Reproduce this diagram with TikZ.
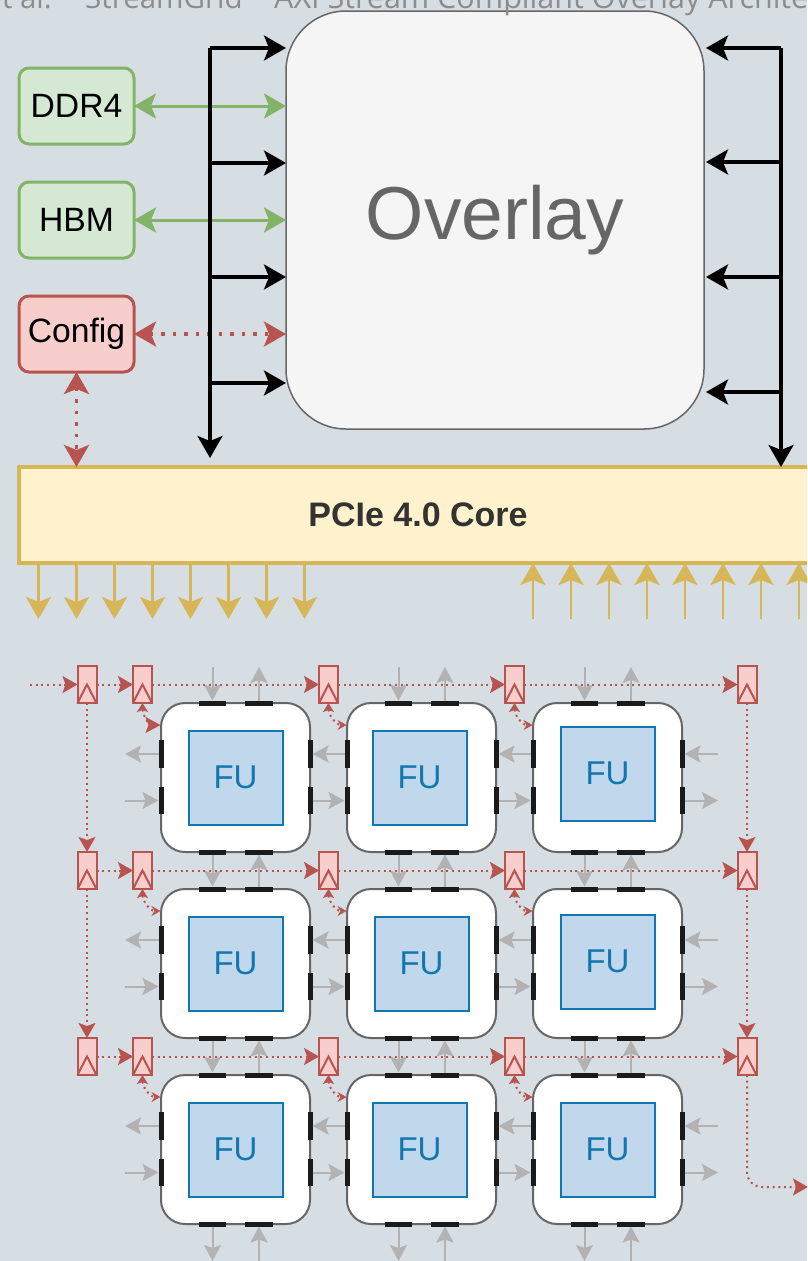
\documentclass[tikz,border=0pt]{standalone}
\usepackage{fontspec}
\setmainfont{Liberation Sans}
\newfontfamily\hdrfont{Open Sans}
\definecolor{ovlbg}{RGB}{214,222,228}
\definecolor{ovlgreen}{RGB}{130,179,102}
\definecolor{ovlgreenfill}{RGB}{213,232,212}
\definecolor{ovlred}{RGB}{184,84,80}
\definecolor{ovlredfill}{RGB}{248,206,204}
\definecolor{ovlgold}{RGB}{214,182,86}
\definecolor{ovlgoldfill}{RGB}{255,242,204}
\definecolor{ovlblue}{RGB}{18,119,175}
\definecolor{ovlbluefill}{RGB}{193,216,236}
\definecolor{ovlport}{RGB}{26,26,26}
\usetikzlibrary{arrows.meta,calc,positioning}

\begin{document}
\begin{tikzpicture}[
      x=1pt, y=-1pt,
      >={Stealth[length=22pt,width=25pt,inset=5pt]},
      bus/.style={->, line width=3.3pt, black},
      mem/.style={<->, line width=3pt, ovlgreen},
      cfg/.style={<->, line width=3.5pt, ovlred, dash pattern=on 3.5pt off 8pt},
      pin/.style={line width=2.5pt, ovlgold},
      gry/.style={->, line width=2pt, black!30, >={Stealth[length=16pt,width=17pt,inset=3pt]}},
      clk/.style={->, line width=2pt, ovlred, dash pattern=on 2pt off 3.7pt, >={Stealth[length=15pt,width=17pt,inset=3pt]}},
      side/.style={draw,line width=3pt,rounded corners=10pt,inner sep=0pt,outer sep=0pt,
                   minimum width=115pt,minimum height=76pt,font=\fontsize{33.7}{40}\selectfont},
      cell/.style={draw=black!60,line width=2pt,fill=white,rounded corners=24pt,minimum size=149pt,outer sep=0pt},
      fu/.style={draw=ovlblue,line width=2pt,fill=ovlbluefill,minimum size=94pt,outer sep=0pt,
                 text=ovlblue,font=\fontsize{33}{38}\selectfont},
      porth/.style={fill=ovlport,minimum width=27.5pt,minimum height=5pt,inner sep=0pt,outer sep=0pt},
      portv/.style={fill=ovlport,minimum width=5pt,minimum height=27.5pt,inner sep=0pt,outer sep=0pt},
      reg/.style={draw=ovlred,line width=2pt,fill=ovlredfill,minimum width=19pt,minimum height=37pt,inner sep=0pt,outer sep=0pt},
      hdr/.style={text=black!45,inner sep=0pt,font=\hdrfont\fontsize{29.5}{34}\selectfont}
    ]
    \path[use as bounding box, clip] (0,0) rectangle (807,1261);
    \fill[ovlbg] (0,0) rectangle (807,1261);

    % Overlay and side blocks
    \node (overlay) [draw=black!60,line width=1.5pt,fill=black!4,rounded corners=60pt,minimum size=418pt,outer sep=0pt,
                     text=black!60,font=\fontsize{75}{90}\selectfont] at (495,220) {\raisebox{-3pt}{Overlay}};
    \node (ddr)    [side,fill=ovlgreenfill,draw=ovlgreen] at (76.5,106) {DDR4};
    \node (hbm)    [side,fill=ovlgreenfill,draw=ovlgreen,below=38pt of ddr] {HBM};
    \node (config) [side,fill=ovlredfill,draw=ovlred,below=38pt of hbm] {Config};
    \node (pcie)   [draw=ovlgold,line width=3.5pt,fill=ovlgoldfill,minimum width=798pt,minimum height=96pt,outer sep=0pt,
                    text=black!80,font=\bfseries\fontsize{34}{40}\selectfont] at (418,515) {PCIe 4.0 Core};

    % Header line, cut by the page edge
    \node (hdr_a) [hdr,anchor=base east] at (52,8)  {et al.};
    \node (hdr_b) [hdr,anchor=base west] at (85,8)  {StreamGrid};
    \node (hdr_c) [hdr,anchor=base west,font=\hdrfont\fontsize{30.5}{34}\selectfont] at (274,8) {AXI Stream Compliant Overlay Archite};

    % Links to the overlay
    \draw[mem] (ddr.east)    -- (ddr.east -| overlay.west);
    \draw[mem] (hbm.east)    -- (hbm.east -| overlay.west);
    \draw[cfg] (config.east) -- (config.east -| overlay.west);
    \draw[cfg] (config.south) -- (config.south |- pcie.north);

    % Left and right bus
    \coordinate (bus_l)     at (210,48);
    \coordinate (bus_l_end) at (210,458);
    \coordinate (bus_r)     at (781,48);
    \draw[bus] (bus_l) -- (bus_l_end);
    \draw[bus] (bus_r) -- (bus_r |- pcie.north);
    \foreach \y in {48,163,277,383} {
      \coordinate (tap_l) at (210,\y);
      \draw[bus] (tap_l) -- (tap_l -| overlay.west);
    }
    \foreach \y in {48,162,277,392} {
      \coordinate (tap_r) at (781,\y);
      \draw[bus,shorten >=2pt] (tap_r) -- (tap_r -| overlay.east);
    }

    % PCIe pins
    \foreach \x in {38.5,76.5,114.5,152.5,190.5,228.5,266.5,304.5} {
      \coordinate (pin_o) at (\x,619);
      \draw[pin,->] (pin_o |- pcie.south) -- (pin_o);
    }
    \foreach \x in {533,571,609,647,685,723,761,799} {
      \coordinate (pin_i) at (\x,619);
      \draw[pin,->] (pin_i) -- (pin_i |- pcie.south);
    }

    % FU grid
    \foreach \row/\col/\dx/\dy in {1/1/0/0,1/2/-2/0,1/3/0/-4,2/1/0/0,2/2/0/0,2/3/0/-2,3/1/0/0,3/2/-2/0,3/3/0/0} {
      \node (cell_\row_\col) [cell] at (49.5+186*\col,591.5+186*\row) {};
      \node (fu_\row_\col)   [fu] at ($(cell_\row_\col)+(\dx,\dy)$) {FU};
      \node (n1_\row_\col) [porth] at ($(cell_\row_\col.north west)+(51.5,0)$) {};
      \node (n2_\row_\col) [porth] at ($(cell_\row_\col.north west)+(98,0)$) {};
      \node (s1_\row_\col) [porth] at ($(cell_\row_\col.south west)+(51.5,0)$) {};
      \node (s2_\row_\col) [porth] at ($(cell_\row_\col.south west)+(98,0)$) {};
      \node (w1_\row_\col) [portv] at ($(cell_\row_\col.north west)+(0,51)$) {};
      \node (w2_\row_\col) [portv] at ($(cell_\row_\col.north west)+(0,97.5)$) {};
      \node (e1_\row_\col) [portv] at ($(cell_\row_\col.north east)+(0,51)$) {};
      \node (e2_\row_\col) [portv] at ($(cell_\row_\col.north east)+(0,97.5)$) {};
    }

    % Data links, vertical
    \foreach \col in {1,2,3} {
      \coordinate (top_a) at ($(n1_1_\col)+(0,-36)$);
      \coordinate (top_b) at ($(n2_1_\col)+(0,-36)$);
      \coordinate (bot_a) at ($(s1_3_\col)+(0,37)$);
      \coordinate (bot_b) at ($(s2_3_\col)+(0,37)$);
      \draw[gry] (top_a) -- (n1_1_\col.north);
      \draw[gry] (n2_1_\col.north) -- (top_b);
      \draw[gry] (s1_3_\col.south) -- (bot_a);
      \draw[gry] (bot_b) -- (s2_3_\col.south);
      \foreach \row/\nxt in {1/2,2/3} {
        \draw[gry] (s1_\row_\col.south) -- (n1_\nxt_\col.north);
        \draw[gry] (n2_\nxt_\col.north) -- (s2_\row_\col.south);
      }
    }

    % Data links, horizontal
    \foreach \row in {1,2,3} {
      \coordinate (lft_a) at ($(w1_\row_1)+(-36,0)$);
      \coordinate (lft_b) at ($(w2_\row_1)+(-36,0)$);
      \coordinate (rgt_a) at ($(e1_\row_3)+(36,0)$);
      \coordinate (rgt_b) at ($(e2_\row_3)+(36,0)$);
      \draw[gry] (w1_\row_1.west) -- (lft_a);
      \draw[gry] (lft_b) -- (w2_\row_1.west);
      \draw[gry] (rgt_a) -- (e1_\row_3.east);
      \draw[gry] (e2_\row_3.east) -- (rgt_b);
      \foreach \col/\nxt in {1/2,2/3} {
        \draw[gry] (w1_\row_\nxt.west) -- (e1_\row_\col.east);
        \draw[gry] (e2_\row_\col.east) -- (w2_\row_\nxt.west);
      }
    }

    % Registers
    \foreach \row in {1,2,3} {
      \foreach \k/\x in {0/87,1/142.5,2/328.5,3/514.5,4/747} {
        \node (reg_\row_\k) [reg] at (\x,498.5+186*\row) {};
        \draw[ovlred,line width=2pt] (reg_\row_\k.south west) -- (reg_\row_\k.center) -- (reg_\row_\k.south east);
      }
      \foreach \k/\nxt in {0/1,1/2,2/3,3/4} {
        \draw[clk] (reg_\row_\k) -- (reg_\row_\nxt);
      }
    }

    % Clock chain
    \coordinate (clk_in)  at (30,684.5);
    \coordinate (clk_out) at (808,1187);
    \draw[clk] (clk_in) -- (reg_1_0);
    \foreach \k in {0,4} {
      \draw[clk] (reg_1_\k) -- (reg_2_\k);
      \draw[clk] (reg_2_\k) -- (reg_3_\k);
    }
    \draw[clk,rounded corners=15pt] (reg_3_4.south) |- (clk_out);

    % Register to FU
    \foreach \row/\col/\tip in {1/1/15,1/2/9,1/3/9,2/1/9,2/2/9,2/3/9,3/1/9,3/2/9,3/3/9} {
      \coordinate (ctl_\row_\col) at ($(cell_\row_\col.north west)+(-0.5,22)$);
      \draw[line width=2pt,ovlred,dash pattern=on 2pt off 3.7pt,
            {Stealth[length=9pt,width=11pt,inset=2pt]}-{Stealth[length=\tip pt,width=\tip pt+1pt,inset=3pt]}]
        (reg_\row_\col.south) to[out=270,in=180] (ctl_\row_\col);
    }
  \end{tikzpicture}
\end{document}
